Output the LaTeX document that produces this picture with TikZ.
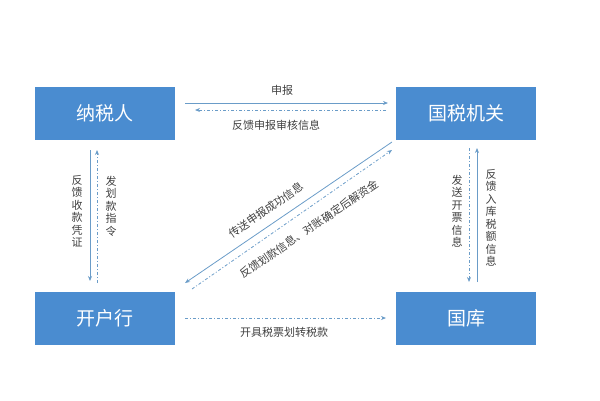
\documentclass[tikz,border=0pt]{standalone}
\usepackage{fontspec}
\setmainfont{Noto Sans CJK SC}
\usetikzlibrary{arrows.meta}
\definecolor{boxblue}{HTML}{4A8CD0}
\definecolor{linec}{HTML}{6A9CC8}
\definecolor{txt}{HTML}{404040}
\begin{document}
\begin{tikzpicture}[x=1pt,y=-1pt,
  box/.style={fill=boxblue,draw=none,minimum width=140pt,minimum height=53pt,text=white,font=\fontsize{19}{22}\selectfont,inner sep=0},
  sol/.style={linec,line width=0.8pt,-{Stealth[length=5pt,width=4pt]}},
  dsh/.style={linec,line width=0.8pt,dash pattern=on 3pt off 2pt on 1pt off 2pt,-{Stealth[length=5pt,width=4pt]}},
  lab/.style={text=txt,font=\fontsize{11}{12}\selectfont,inner sep=1pt},
  vlab/.style={text=txt,font=\fontsize{11}{12.5}\selectfont,align=center,inner sep=1pt}]
\useasboundingbox (0,0) rectangle (600,400);
\node[box] (a) at (105,113.5) {纳税人};
\node[box] (b) at (466,113.5) {国税机关};
\node[box] (c) at (105,318.5) {开户行};
\node[box] (d) at (466,318.5) {国库};
\coordinate (t1) at (185,103); \coordinate (t2) at (388,103);
\coordinate (t3) at (386,110); \coordinate (t4) at (195,110);
\draw[sol] (t1) -- (t2);
\draw[dsh] (t3) -- (t4);
\node[lab] (l1) at (282,90) {申报};
\node[lab] (l2) at (276,125) {反馈申报审核信息};
\coordinate (v1) at (90,150); \coordinate (v2) at (90,281);
\coordinate (v3) at (97,283); \coordinate (v4) at (97,150);
\draw[sol] (v1) -- (v2);
\draw[dsh] (v3) -- (v4);
\node[vlab] (l3) at (77,211) {反\\馈\\收\\款\\凭\\证};
\node[vlab] (l4) at (111,206) {发\\划\\款\\指\\令};
\coordinate (r1) at (469,148); \coordinate (r2) at (469,282);
\coordinate (r3) at (477,282); \coordinate (r4) at (477,148);
\draw[dsh] (r1) -- (r2);
\draw[sol] (r3) -- (r4);
\node[vlab] (l5) at (457,211) {发\\送\\开\\票\\信\\息};
\node[vlab] (l6) at (491,218) {反\\馈\\入\\库\\税\\额\\信\\息};
\coordinate (g1) at (392,142); \coordinate (g2) at (185,283);
\coordinate (g3) at (192,289); \coordinate (g4) at (392,150);
\draw[sol] (g1) -- (g2);
\draw[dsh] (g3) -- (g4);
\node[lab,rotate=34.3] (l7) at (266,210) {传送申报成功信息};
\node[lab,rotate=34.3] (l8) at (309,229) {反馈划款信息、对账确定后解资金};
\coordinate (h1) at (185,318); \coordinate (h2) at (386,318);
\draw[dsh] (h1) -- (h2);
\node[lab] (l9) at (284,332) {开具税票划转税款};
\end{tikzpicture}
\end{document}
